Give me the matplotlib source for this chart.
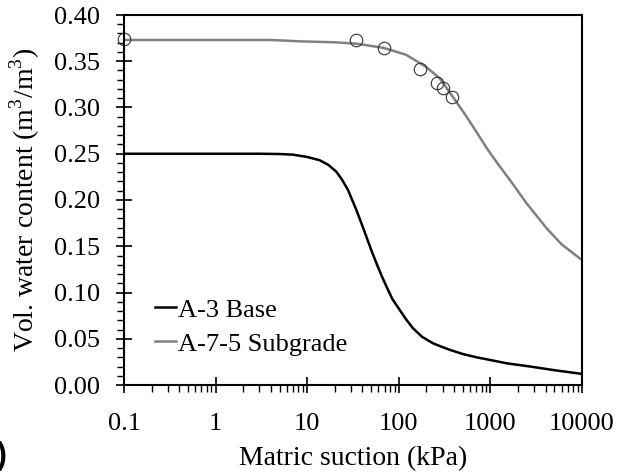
import matplotlib
matplotlib.use("Agg")
import matplotlib.pyplot as plt
from matplotlib.ticker import FixedLocator, MultipleLocator, LogLocator, NullFormatter

plt.rcParams['font.family'] = ['Liberation Serif', 'DejaVu Serif']
plt.rcParams['mathtext.fontset'] = 'custom'
plt.rcParams['mathtext.rm'] = 'Liberation Serif'

# A-3 base SWCC
base_suction = [0.1, 1, 3, 5, 7, 10, 13.7, 17, 20.8, 24, 27.9, 31, 34.5, 39, 44.4, 50, 57, 65, 73.4,
                85, 102.6, 120, 143, 180, 237, 300, 361, 500, 700, 1000, 1500, 2700, 5000, 10000]
base_theta = [0.25, 0.25, 0.25, 0.2497, 0.249, 0.2465, 0.243, 0.238, 0.2306, 0.222, 0.2108, 0.200, 0.189,
              0.175, 0.160, 0.146, 0.1316, 0.118, 0.1063, 0.093, 0.081, 0.071, 0.0613, 0.052, 0.045,
              0.041, 0.038, 0.0335, 0.030, 0.027, 0.0235, 0.020, 0.016, 0.012]

# A-7-5 subgrade fitted SWCC
sub_suction = [0.1, 1, 4, 8.5, 20, 34.5, 68, 120, 198, 280, 380, 550, 700, 912, 1250, 1633, 2485,
               4110, 6000, 10000]
sub_theta = [0.373, 0.373, 0.373, 0.3715, 0.3705, 0.369, 0.3645, 0.357, 0.344, 0.3315, 0.313, 0.290,
             0.274, 0.256, 0.237, 0.2216, 0.1964, 0.1694, 0.152, 0.135]

# A-7-5 measured points
meas_suction = [0.1, 34.5, 68.5, 170, 258, 300, 380]
meas_theta = [0.3737, 0.373, 0.364, 0.3416, 0.3268, 0.3214, 0.3114]

fig = plt.figure(figsize=(6.19, 4.73), dpi=100)
ax = fig.add_axes([124 / 619, 1 - 385 / 473, 458 / 619, 370 / 473])

ax.plot(base_suction, base_theta, color='black', lw=1.8, label='A-3 Base')
ax.plot(sub_suction, sub_theta, color='#808080', lw=1.8, label='A-7-5 Subgrade')
ax.plot(meas_suction, meas_theta, 'o', mfc='none', mec='#333333', mew=0.8, ms=9, clip_on=False)

ax.set_xscale('log')
ax.set_xlim(0.1, 10000)
ax.set_ylim(0, 0.40)
ax.xaxis.set_major_locator(FixedLocator([0.1, 1, 10, 100, 1000, 10000]))
ax.set_xticklabels(['0.1', '1', '10', '100', '1000', '10000'])
ax.xaxis.set_minor_locator(LogLocator(base=10, subs=range(2, 10)))
ax.xaxis.set_minor_formatter(NullFormatter())
ax.yaxis.set_major_locator(MultipleLocator(0.05))
ax.yaxis.set_minor_locator(MultipleLocator(0.01))
ax.yaxis.set_major_formatter(plt.FuncFormatter(lambda v, p: f"{v:.2f}"))

ax.tick_params(which='major', direction='inout', length=11, width=1.2, labelsize=19)
ax.tick_params(which='minor', direction='out', length=5, width=1.0)
ax.tick_params(axis='y', which='major', pad=12)
ax.tick_params(axis='x', which='major', pad=15)
for s in ax.spines.values():
    s.set_linewidth(1.5)

ax.set_xlabel('Matric suction (kPa)', fontsize=20, labelpad=8)
ax.set_ylabel('Vol. water content (m$^3$/m$^3$)', fontsize=20, labelpad=8)

ax.legend(loc='upper left', bbox_to_anchor=(0.068, 0.235), frameon=False, fontsize=19,
          handlelength=0.8, handletextpad=0.08, labelspacing=0.4, borderpad=0, borderaxespad=0)

fig.text(7 / 619, 1 - 456 / 473, '(b)', ha='right', va='center', fontsize=22, fontweight='bold',
         family=['Liberation Sans', 'DejaVu Sans'])

fig.savefig('out.png', dpi=100)
